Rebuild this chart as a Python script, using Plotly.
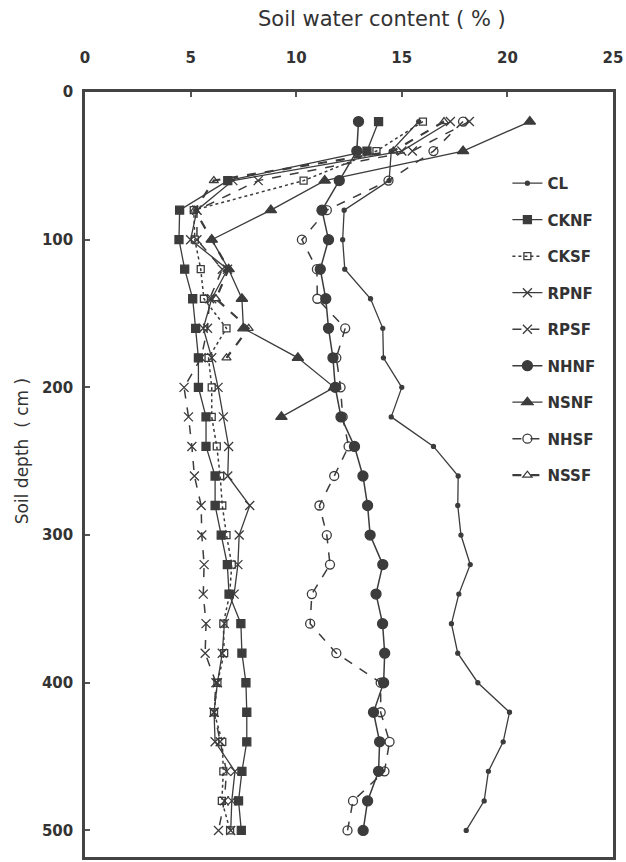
import plotly.graph_objects as go

depth = [20, 40, 60, 80, 100, 120, 140, 160, 180, 200, 220, 240, 260, 280, 300,
         320, 340, 360, 380, 400, 420, 440, 460, 480, 500]
depth_nsnf = depth[:11]
depth_nssf = depth[:9]

CL = [15.8, 14.5, 14.4, 12.27, 12.2, 12.3, 13.52, 14.1, 14.13, 15.0, 14.5, 16.5, 17.67,
      17.65, 17.8, 18.24, 17.7, 17.35, 17.65, 18.6, 20.1, 19.8, 19.1, 18.9, 18.05]
CKNF = [13.9, 13.35, 6.76, 4.48, 4.45, 4.72, 5.1, 5.24, 5.37, 5.37, 5.73, 5.73, 6.16,
        6.16, 6.45, 6.74, 6.82, 7.38, 7.43, 7.62, 7.66, 7.66, 7.43, 7.27, 7.4]
CKSF = [16.0, 13.8, 10.35, 5.15, 5.2, 5.48, 5.63, 6.7, 5.85, 6.0, 6.0, 6.24, 6.4,
        6.5, 6.7, 6.95, 6.85, 6.55, 6.59, 6.27, 6.11, 6.5, 6.55, 6.48, 6.87]
RPNF = [17.3, 15.0, 7.0, 5.3, 5.0, 6.75, 6.0, 5.6, 6.0, 6.3, 6.55, 6.8, 6.76,
        7.8, 7.3, 7.24, 7.06, 6.6, 6.5, 6.27, 6.11, 6.16, 7.1, 6.95, 6.9]
RPSF = [18.2, 15.5, 8.2, 5.3, 5.3, 6.5, 5.9, 5.8, 5.5, 4.69, 4.9, 5.06, 5.18,
        5.5, 5.53, 5.64, 5.6, 5.73, 5.69, 6.2, 6.11, 6.4, 6.7, 6.6, 6.32]
NHNF = [12.95, 12.87, 12.04, 11.22, 11.53, 11.14, 11.4, 11.53, 11.74, 11.85, 12.12,
        12.76, 13.16, 13.38, 13.5, 14.1, 13.78, 14.09, 14.19, 14.14, 13.66, 13.95,
        13.9, 13.38, 13.17]
NSNF = [21.06, 17.9, 11.35, 8.8, 6.0, 6.8, 7.43, 7.5, 10.08, 11.8, 9.3]
NHSF = [17.9, 16.5, 14.37, 11.45, 10.27, 10.98, 11.0, 12.32, 11.9, 12.1, 12.2, 12.48,
        11.8, 11.1, 11.45, 11.6, 10.74, 10.66, 11.9, 14.0, 14.0, 14.42, 14.18, 12.69,
        12.43]
NSSF = [17.0, 14.6, 6.1, 5.2, 6.0, 6.8, 6.2, 7.75, 6.7]

x_ticks = [0, 5, 10, 15, 20, 25]
y_ticks = [0, 100, 200, 300, 400, 500]

LC = "#3c3c3c"
FONT = "DejaVu Sans, Verdana, sans-serif"

series = [
    ("CL", CL, depth, "solid", 1.3, "circle", 4, LC),
    ("CKNF", CKNF, depth, "solid", 1.3, "square", 8, LC),
    ("CKSF", CKSF, depth, "dot", 1.5, "square-open", 7, LC),
    ("RPNF", RPNF, depth, "solid", 1.3, "x-thin-open", 9, LC),
    ("RPSF", RPSF, depth, "dash", 1.5, "x-thin-open", 9, LC),
    ("NHNF", NHNF, depth, "solid", 1.5, "circle", 10, LC),
    ("NSNF", NSNF, depth_nsnf, "solid", 1.3, "triangle-up", 10, LC),
    ("NHSF", NHSF, depth, "dash", 1.5, "circle-open", 9, LC),
    ("NSSF", NSSF, depth_nssf, "dash", 2.2, "triangle-up-open", 8, LC),
]

fig = go.Figure()
for name, xs, ys, dash, lw, sym, ms, col in series:
    fig.add_trace(go.Scatter(
        x=xs, y=ys, name=name, mode="lines+markers", legendgroup=name,
        line=dict(color=col, width=lw, dash=dash),
        marker=dict(symbol=sym, size=ms, color=col,
                    line=dict(color=col, width=1.3)),
    ))

fig.update_layout(
    width=626, height=862,
    margin=dict(l=85, r=13, t=92, b=2),
    paper_bgcolor="white", plot_bgcolor="white",
    font=dict(family=FONT, color="#333333"),
    showlegend=True,
    legend=dict(x=0.80, y=0.902, xanchor="left", yanchor="top",
                bgcolor="rgba(0,0,0,0)", tracegroupgap=14,
                font=dict(family=FONT, size=15, color="#333333", weight="bold")),
    xaxis=dict(side="top", range=[0, 25], tickvals=x_ticks, ticks="inside",
               ticklen=5, tickwidth=1.5, tickcolor="#555",
               showline=True, linecolor="#444", linewidth=2.5, mirror=True,
               showgrid=False, zeroline=False, ticklabelstandoff=20,
               tickfont=dict(family=FONT, size=15, color="#333", weight="bold")),
    yaxis=dict(range=[518, 0], tickvals=y_ticks, ticks="inside",
               ticklen=5, tickwidth=1.5, tickcolor="#555",
               showline=True, linecolor="#444", linewidth=2.5, mirror=True,
               showgrid=False, zeroline=False, ticklabelstandoff=6,
               tickfont=dict(family=FONT, size=15, color="#333", weight="bold")),
    annotations=[
        dict(text="Soil water content (\u00a0%\u00a0)", xref="paper", yref="paper",
             x=0.563, y=1.096, xanchor="center", yanchor="middle", showarrow=False,
             font=dict(family=FONT, size=21, color="#333")),
        dict(text="Soil depth \u00a0(\u00a0cm\u00a0)", xref="paper", yref="paper",
             x=-0.12, y=0.53, xanchor="center", yanchor="middle", showarrow=False,
             textangle=-90, font=dict(family=FONT, size=17, color="#333")),
    ],
)

fig.write_html("out.html",
               config={"displayModeBar": False},
               post_script="document.body.style.margin='0';"
                           "document.body.style.overflow='hidden';")
